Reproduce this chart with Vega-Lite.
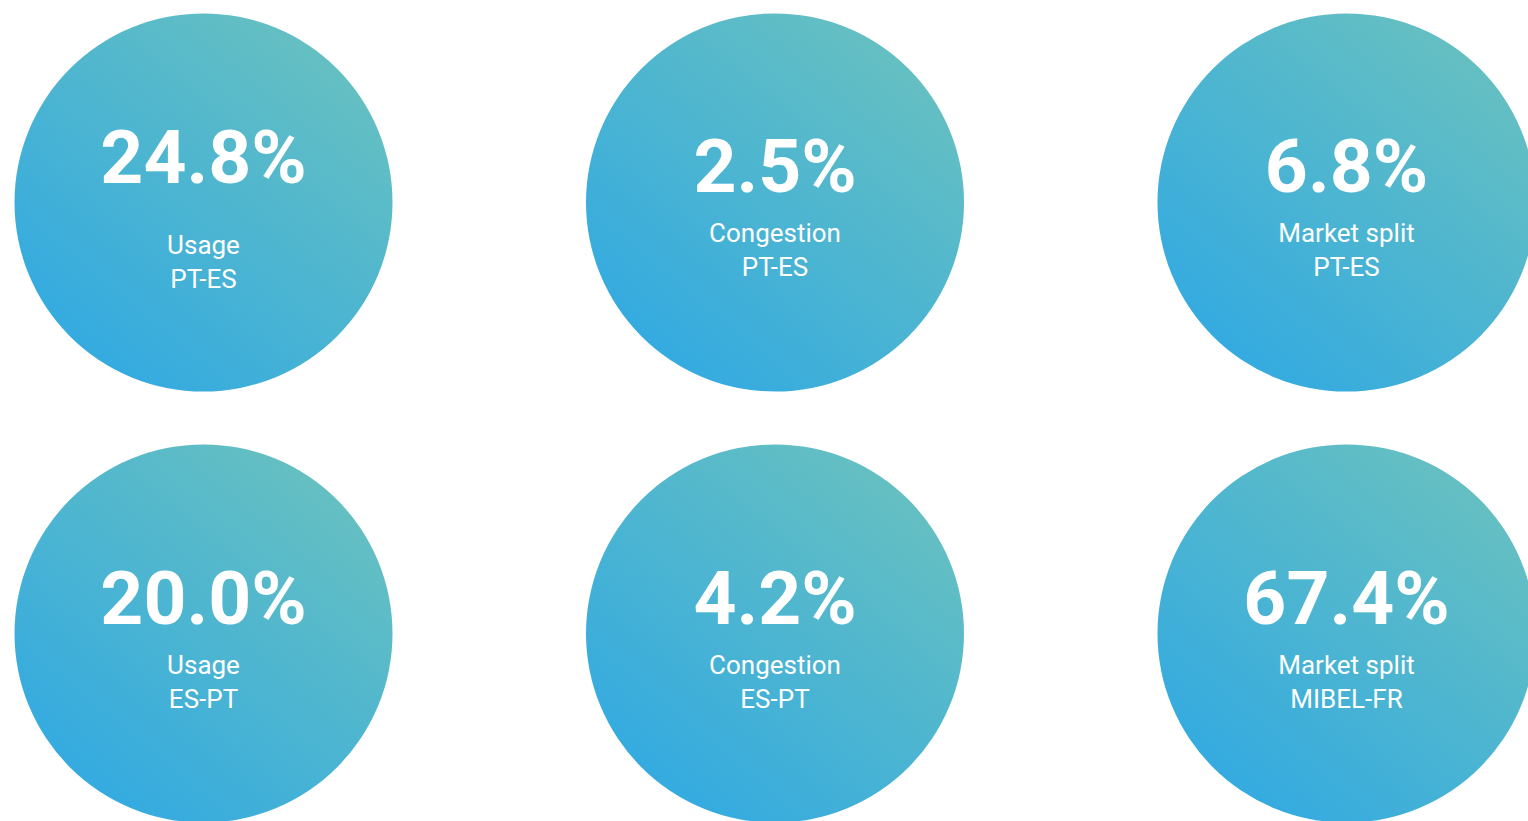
{
  "$schema": "https://vega.github.io/schema/vega-lite/v6.json",
  "width": 1528,
  "height": 821,
  "autosize": {"type": "none"},
  "padding": 0,
  "background": "#ffffff",
  "config": {"view": {"stroke": null}},
  "data": {
    "values": [
      {"id": 1, "col": 0, "row": 0, "value": "24.8%", "metric": "Usage", "pair": "PT-ES"},
      {"id": 2, "col": 1, "row": 0, "value": "2.5%", "metric": "Congestion", "pair": "PT-ES"},
      {"id": 3, "col": 2, "row": 0, "value": "6.8%", "metric": "Market split", "pair": "PT-ES"},
      {"id": 4, "col": 0, "row": 1, "value": "20.0%", "metric": "Usage", "pair": "ES-PT"},
      {"id": 5, "col": 1, "row": 1, "value": "4.2%", "metric": "Congestion", "pair": "ES-PT"},
      {"id": 6, "col": 2, "row": 1, "value": "67.4%", "metric": "Market split", "pair": "MIBEL-FR"}
    ]
  },
  "encoding": {
    "x": {"field": "col", "type": "quantitative", "scale": {"domain": [-0.3561, 2.3176], "nice": false, "zero": false}, "axis": null},
    "y": {"field": "row", "type": "quantitative", "scale": {"domain": [-0.4698, 1.435], "nice": false, "zero": false, "reverse": true}, "axis": null}
  },
  "layer": [
    {
      "mark": {
        "type": "point",
        "shape": "circle",
        "filled": true,
        "size": 142884,
        "opacity": 1,
        "strokeWidth": 0,
        "clip": true,
        "fill": {
          "gradient": "linear",
          "x1": 0.15, "y1": 0.95, "x2": 0.85, "y2": 0.1,
          "stops": [
            {"offset": 0, "color": "#31a9e2"},
            {"offset": 1, "color": "#66c0c1"}
          ]
        }
      }
    },
    {
      "transform": [{"filter": "datum.id != 1"}],
      "mark": {"type": "text", "font": "Roboto", "fontWeight": "bold", "fontSize": 75, "color": "#ffffff", "align": "center", "baseline": "alphabetic", "dy": -10},
      "encoding": {"text": {"field": "value"}}
    },
    {
      "transform": [{"filter": "datum.id != 1"}],
      "mark": {"type": "text", "font": "Roboto", "fontWeight": "normal", "fontSize": 26, "color": "#ffffff", "align": "center", "baseline": "alphabetic", "dy": 40},
      "encoding": {"text": {"field": "metric"}}
    },
    {
      "transform": [{"filter": "datum.id != 1"}],
      "mark": {"type": "text", "font": "Roboto", "fontWeight": "normal", "fontSize": 26, "color": "#ffffff", "align": "center", "baseline": "alphabetic", "dy": 74},
      "encoding": {"text": {"field": "pair"}}
    },
    {
      "transform": [{"filter": "datum.id == 1"}],
      "mark": {"type": "text", "font": "Roboto", "fontWeight": "bold", "fontSize": 75, "color": "#ffffff", "align": "center", "baseline": "alphabetic", "dy": -19},
      "encoding": {"text": {"field": "value"}}
    },
    {
      "transform": [{"filter": "datum.id == 1"}],
      "mark": {"type": "text", "font": "Roboto", "fontWeight": "normal", "fontSize": 26, "color": "#ffffff", "align": "center", "baseline": "alphabetic", "dy": 52},
      "encoding": {"text": {"field": "metric"}}
    },
    {
      "transform": [{"filter": "datum.id == 1"}],
      "mark": {"type": "text", "font": "Roboto", "fontWeight": "normal", "fontSize": 26, "color": "#ffffff", "align": "center", "baseline": "alphabetic", "dy": 86},
      "encoding": {"text": {"field": "pair"}}
    }
  ]
}
